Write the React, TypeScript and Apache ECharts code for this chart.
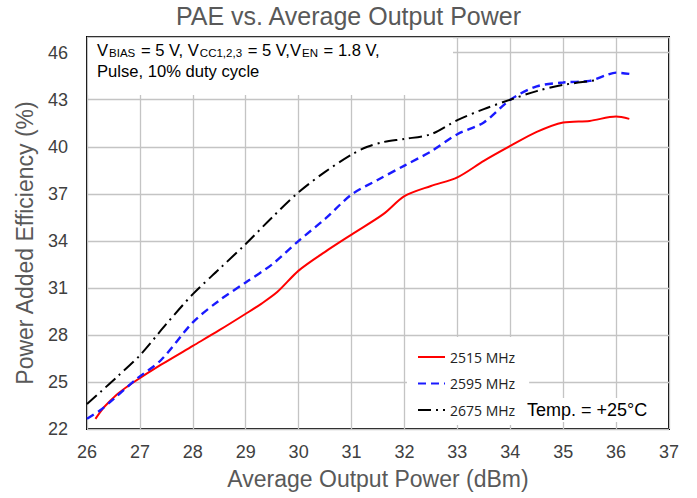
import React, { useEffect, useRef } from "react";
import * as echarts from "echarts";

const FONT = "'Liberation Sans', Arial, sans-serif";

const xTicks = [26, 27, 28, 29, 30, 31, 32, 33, 34, 35, 36, 37];
const yTicks = [22, 25, 28, 31, 34, 37, 40, 43, 46];

const seriesNames = ["2515 MHz", "2595 MHz", "2675 MHz"];

const pae2515X = [26.16, 26.3, 26.44, 26.6, 26.88, 27.4, 28.0, 28.5, 29.0, 29.3, 29.6, 30.0, 30.5, 31.0, 31.6, 32.0, 32.5, 33.0, 33.5, 34.0, 34.5, 35.0, 35.5, 36.0, 36.25];
const pae2515Y = [22.65, 23.3, 23.8, 24.3, 24.98, 26.1, 27.3, 28.3, 29.35, 30.0, 30.75, 32.1, 33.3, 34.4, 35.7, 36.85, 37.5, 38.05, 39.1, 40.05, 40.95, 41.55, 41.65, 41.93, 41.78];

const pae2595X = [26.0, 26.25, 26.5, 26.94, 27.4, 28.0, 28.5, 29.0, 29.5, 30.0, 30.5, 31.0, 31.5, 32.0, 32.5, 33.0, 33.5, 34.0, 34.5, 35.0, 35.5, 35.8, 36.0, 36.28];
const pae2595Y = [22.65, 23.2, 23.9, 25.2, 26.4, 28.8, 30.2, 31.35, 32.5, 34.0, 35.4, 36.95, 37.9, 38.8, 39.7, 40.8, 41.55, 43.0, 43.85, 44.1, 44.2, 44.55, 44.73, 44.63];

const pae2675X = [26.0, 26.25, 26.56, 27.0, 27.5, 28.0, 28.5, 29.0, 29.5, 30.0, 30.5, 31.0, 31.3, 31.6, 32.0, 32.5, 33.0, 33.5, 34.0, 34.5, 35.0, 35.65];
const pae2675Y = [23.6, 24.35, 25.3, 26.7, 28.7, 30.6, 32.2, 33.8, 35.5, 37.1, 38.4, 39.5, 40.0, 40.3, 40.5, 40.8, 41.7, 42.4, 43.0, 43.55, 43.95, 44.25];

const zip = (xs: number[], ys: number[]) => xs.map((x, i) => [x, ys[i]]);

export default function App() {
  const ref = useRef<HTMLDivElement>(null);
  useEffect(() => {
    document.body.style.margin = "0";
    if (!ref.current) return;
    const chart = echarts.init(ref.current, undefined, { renderer: "svg" });
    const gridColor = "#c4c4c4";
    chart.setOption({
      animation: false,
      backgroundColor: "#fff",
      textStyle: { fontFamily: FONT },
      title: {
        text: "PAE vs. Average Output Power",
        left: "center",
        top: 3,
        padding: 0,
        textStyle: { fontSize: 25, fontWeight: "normal", color: "#595959", fontFamily: FONT },
      },
      grid: {
        left: 87,
        right: 28,
        top: 37,
        bottom: 69,
        show: true,
        borderColor: "#000",
        borderWidth: 2,
        backgroundColor: "transparent",
      },
      xAxis: {
        type: "value",
        min: xTicks[0],
        max: xTicks[xTicks.length - 1],
        interval: 1,
        name: "Average Output Power (dBm)",
        nameLocation: "middle",
        nameGap: 38,
        nameTextStyle: { fontSize: 23, color: "#595959", fontFamily: FONT },
        axisLine: { show: false },
        axisTick: { show: false },
        axisLabel: { fontSize: 18, color: "#404040", margin: 14, fontFamily: FONT },
        splitLine: { show: true, lineStyle: { color: gridColor, width: 1.3 } },
      },
      yAxis: {
        type: "value",
        min: yTicks[0],
        max: 47,
        interval: 3,
        axisLine: { show: false },
        axisTick: { show: false },
        axisLabel: {
          fontSize: 18,
          color: "#404040",
          margin: 19,
          fontFamily: FONT,
          formatter: (v: number) => (yTicks.includes(v) ? String(v) : ""),
        },
        splitLine: { show: true, lineStyle: { color: gridColor, width: 1.3 } },
      },
      legend: {
        orient: "vertical",
        left: 407,
        top: 337,
        padding: [13, 14, 8, 10],
        itemWidth: 27,
        itemHeight: 14,
        itemGap: 12.5,
        backgroundColor: "#fff",
        itemStyle: { opacity: 0 },
        textStyle: { fontSize: 14, color: "#222", fontFamily: "'Open Sans', sans-serif" },
        data: seriesNames,
      },
      graphic: [
        {
          type: "rect",
          z: 1,
          shape: { x: 88, y: 38, width: 365, height: 57 },
          style: { fill: "#fff" },
        },
        {
          type: "text",
          z: 5,
          x: 97,
          y: 42,
          style: {
            text: "{m|V}{s|BIAS}{m| = 5 V, V}{s|CC1,2,3}{m| = 5 V,V}{s|EN}{m| = 1.8 V,}",
            fill: "#000",
            font: `16.6px ${FONT}`,
            rich: {
              m: { fontSize: 16.6, lineHeight: 17, fontFamily: FONT, fill: "#000", color: "#000" },
              s: {
                fontSize: 11.5,
                lineHeight: 5,
                verticalAlign: "bottom",
                padding: [0, 1, 0, 1],
                fontFamily: FONT,
                fill: "#000",
                color: "#000",
              },
            },
          },
        },
        {
          type: "text",
          z: 5,
          x: 97,
          y: 63,
          style: {
            text: "Pulse, 10% duty cycle",
            fill: "#000",
            font: `16.6px ${FONT}`,
            textVerticalAlign: "top",
            verticalAlign: "top",
          },
        },
        {
          type: "text",
          z: 5,
          x: 525,
          y: 410,
          style: {
            text: "Temp. = +25°C",
            fill: "#000",
            font: `18px ${FONT}`,
            textVerticalAlign: "middle",
            verticalAlign: "middle",
            backgroundColor: "#fff",
            padding: [3, 2, 3, 2],
          },
        },
        {
          type: "text",
          z: 5,
          x: 25,
          y: 243,
          rotation: Math.PI / 2,
          style: {
            text: "Power Added Efficiency (%)",
            fill: "#595959",
            font: `23px ${FONT}`,
            align: "center",
            verticalAlign: "middle",
            textAlign: "center",
            textVerticalAlign: "middle",
          },
        },
      ],
      series: [
        {
          name: seriesNames[0],
          type: "line",
          data: zip(pae2515X, pae2515Y),
          smooth: 0.3,
          symbol: "none",
          lineStyle: { color: "#ff0000", width: 2 },
          itemStyle: { color: "#ff0000" },
        },
        {
          name: seriesNames[1],
          type: "line",
          data: zip(pae2595X, pae2595Y),
          smooth: 0.3,
          symbol: "none",
          lineStyle: { color: "#1a1aff", width: 2.4, type: [8, 5] },
          itemStyle: { color: "#1a1aff" },
        },
        {
          name: seriesNames[2],
          type: "line",
          data: zip(pae2675X, pae2675Y),
          smooth: 0.3,
          symbol: "none",
          lineStyle: { color: "#000", width: 2, type: [13, 5, 2, 5] },
          itemStyle: { color: "#000" },
        },
      ],
    });
    return () => chart.dispose();
  }, []);
  return <div ref={ref} style={{ width: 697, height: 498 }} />;
}
